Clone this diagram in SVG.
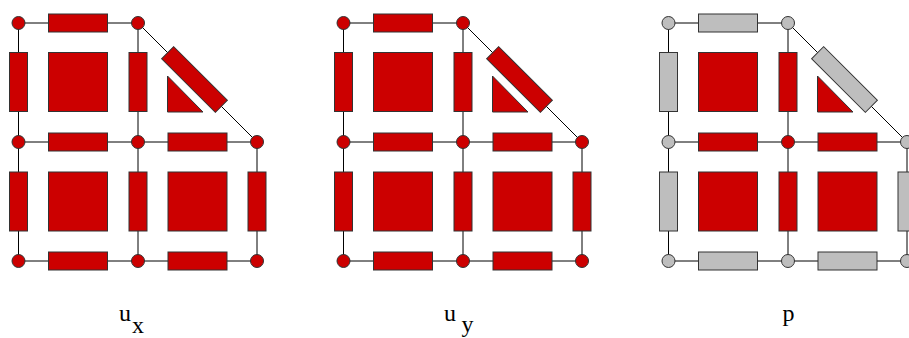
<svg xmlns="http://www.w3.org/2000/svg" width="909" height="338" viewBox="0 0 909 338">
<style>
.r{fill:#cc0000;stroke:#333;stroke-width:1}
.g{fill:#bebebe;stroke:#333;stroke-width:1}
.c{stroke:#000;stroke-width:1;fill:none}
.t{font-family:"Liberation Serif","Times New Roman",serif;font-size:24px;fill:#000}
</style>
<defs>
<g id="lines">
<path class="c" d="M18.5,23H138L257,142M18.5,142H257M18.5,261H257M18.5,23V261M138,23V261M257,142V261"/>
</g>
</defs>
<rect width="909" height="338" fill="#fff"/>

<g id="panel-ux">
<g id="ux-connectors"><use href="#lines"/></g>
<g id="ux-cell-a"><rect class="r" x="48.5" y="52.5" width="59" height="59"/></g>
<g id="ux-cell-b"><rect class="r" x="48.5" y="172" width="59" height="59"/></g>
<g id="ux-cell-c"><rect class="r" x="168" y="172" width="59" height="59"/></g>
<g id="ux-cell-tri"><polygon class="r" points="167.5,76 167.5,112 203,112"/></g>
<g id="ux-e1"><rect class="r" x="48.5" y="14" width="59" height="18"/></g>
<g id="ux-e2"><rect class="r" x="48.5" y="133" width="59" height="18"/></g>
<g id="ux-e3"><rect class="r" x="168" y="133" width="59" height="18"/></g>
<g id="ux-e4"><rect class="r" x="48.5" y="252" width="59" height="18"/></g>
<g id="ux-e5"><rect class="r" x="168" y="252" width="59" height="18"/></g>
<g id="ux-e6"><rect class="r" x="9.5" y="52.5" width="18" height="59"/></g>
<g id="ux-e7"><rect class="r" x="9.5" y="172" width="18" height="59"/></g>
<g id="ux-e8"><rect class="r" x="129" y="52.5" width="18" height="59"/></g>
<g id="ux-e9"><rect class="r" x="129" y="172" width="18" height="59"/></g>
<g id="ux-e10"><rect class="r" x="248" y="172" width="18" height="59"/></g>
<g id="ux-e11"><rect class="r" x="-38" y="-8.5" width="76" height="17" transform="translate(194.5,79.5) rotate(45)"/></g>
<g id="ux-n1"><circle class="r" cx="18.5" cy="23" r="6.5"/></g>
<g id="ux-n2"><circle class="r" cx="138" cy="23" r="6.5"/></g>
<g id="ux-n3"><circle class="r" cx="18.5" cy="142" r="6.5"/></g>
<g id="ux-n4"><circle class="r" cx="138" cy="142" r="6.5"/></g>
<g id="ux-n5"><circle class="r" cx="257" cy="142" r="6.5"/></g>
<g id="ux-n6"><circle class="r" cx="18.5" cy="261" r="6.5"/></g>
<g id="ux-n7"><circle class="r" cx="138" cy="261" r="6.5"/></g>
<g id="ux-n8"><circle class="r" cx="257" cy="261" r="6.5"/></g>
<g id="ux-label"><text class="t" x="119" y="321">u</text><text class="t" x="132" y="333">x</text></g>
</g>

<g id="panel-uy" transform="translate(325,0)">
<g id="uy-connectors"><use href="#lines"/></g>
<g id="uy-cell-a"><rect class="r" x="48.5" y="52.5" width="59" height="59"/></g>
<g id="uy-cell-b"><rect class="r" x="48.5" y="172" width="59" height="59"/></g>
<g id="uy-cell-c"><rect class="r" x="168" y="172" width="59" height="59"/></g>
<g id="uy-cell-tri"><polygon class="r" points="167.5,76 167.5,112 203,112"/></g>
<g id="uy-e1"><rect class="r" x="48.5" y="14" width="59" height="18"/></g>
<g id="uy-e2"><rect class="r" x="48.5" y="133" width="59" height="18"/></g>
<g id="uy-e3"><rect class="r" x="168" y="133" width="59" height="18"/></g>
<g id="uy-e4"><rect class="r" x="48.5" y="252" width="59" height="18"/></g>
<g id="uy-e5"><rect class="r" x="168" y="252" width="59" height="18"/></g>
<g id="uy-e6"><rect class="r" x="9.5" y="52.5" width="18" height="59"/></g>
<g id="uy-e7"><rect class="r" x="9.5" y="172" width="18" height="59"/></g>
<g id="uy-e8"><rect class="r" x="129" y="52.5" width="18" height="59"/></g>
<g id="uy-e9"><rect class="r" x="129" y="172" width="18" height="59"/></g>
<g id="uy-e10"><rect class="r" x="248" y="172" width="18" height="59"/></g>
<g id="uy-e11"><rect class="r" x="-38" y="-8.5" width="76" height="17" transform="translate(194.5,79.5) rotate(45)"/></g>
<g id="uy-n1"><circle class="r" cx="18.5" cy="23" r="6.5"/></g>
<g id="uy-n2"><circle class="r" cx="138" cy="23" r="6.5"/></g>
<g id="uy-n3"><circle class="r" cx="18.5" cy="142" r="6.5"/></g>
<g id="uy-n4"><circle class="r" cx="138" cy="142" r="6.5"/></g>
<g id="uy-n5"><circle class="r" cx="257" cy="142" r="6.5"/></g>
<g id="uy-n6"><circle class="r" cx="18.5" cy="261" r="6.5"/></g>
<g id="uy-n7"><circle class="r" cx="138" cy="261" r="6.5"/></g>
<g id="uy-n8"><circle class="r" cx="257" cy="261" r="6.5"/></g>
<g id="uy-label"><text class="t" x="119" y="321">u</text><text class="t" x="136.5" y="332">y</text></g>
</g>

<g id="panel-p" transform="translate(650,0)">
<g id="p-connectors"><use href="#lines"/></g>
<g id="p-cell-a"><rect class="r" x="48.5" y="52.5" width="59" height="59"/></g>
<g id="p-cell-b"><rect class="r" x="48.5" y="172" width="59" height="59"/></g>
<g id="p-cell-c"><rect class="r" x="168" y="172" width="59" height="59"/></g>
<g id="p-cell-tri"><polygon class="r" points="167.5,76 167.5,112 203,112"/></g>
<g id="p-e1"><rect class="g" x="48.5" y="14" width="59" height="18"/></g>
<g id="p-e2"><rect class="r" x="48.5" y="133" width="59" height="18"/></g>
<g id="p-e3"><rect class="r" x="168" y="133" width="59" height="18"/></g>
<g id="p-e4"><rect class="g" x="48.5" y="252" width="59" height="18"/></g>
<g id="p-e5"><rect class="g" x="168" y="252" width="59" height="18"/></g>
<g id="p-e6"><rect class="g" x="9.5" y="52.5" width="18" height="59"/></g>
<g id="p-e7"><rect class="g" x="9.5" y="172" width="18" height="59"/></g>
<g id="p-e8"><rect class="r" x="129" y="52.5" width="18" height="59"/></g>
<g id="p-e9"><rect class="r" x="129" y="172" width="18" height="59"/></g>
<g id="p-e10"><rect class="g" x="248" y="172" width="18" height="59"/></g>
<g id="p-e11"><rect class="g" x="-38" y="-8.5" width="76" height="17" transform="translate(194.5,79.5) rotate(45)"/></g>
<g id="p-n1"><circle class="g" cx="18.5" cy="23" r="6.5"/></g>
<g id="p-n2"><circle class="g" cx="138" cy="23" r="6.5"/></g>
<g id="p-n3"><circle class="g" cx="18.5" cy="142" r="6.5"/></g>
<g id="p-n4"><circle class="r" cx="138" cy="142" r="6.5"/></g>
<g id="p-n5"><circle class="g" cx="257" cy="142" r="6.5"/></g>
<g id="p-n6"><circle class="g" cx="18.5" cy="261" r="6.5"/></g>
<g id="p-n7"><circle class="g" cx="138" cy="261" r="6.5"/></g>
<g id="p-n8"><circle class="g" cx="257" cy="261" r="6.5"/></g>
<g id="p-label"><text class="t" x="132.5" y="321">p</text></g>
</g>
</svg>
